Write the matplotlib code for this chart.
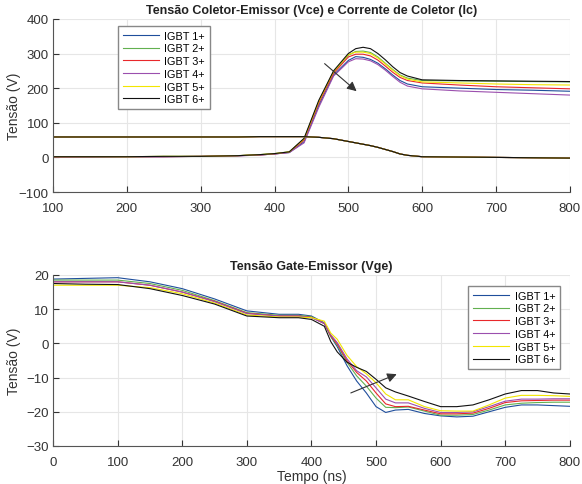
import matplotlib.pyplot as plt

plt.rcParams['font.family'] = ['Liberation Sans', 'DejaVu Sans']

labels = ['IGBT 1+', 'IGBT 2+', 'IGBT 3+', 'IGBT 4+', 'IGBT 5+', 'IGBT 6+']
colors = ['#1f4e9c', '#62b04f', '#e8282b', '#9b4fae', '#f2e600', '#111111']

# Vce / Ic (top)
t_top = [100, 150, 200, 250, 300, 350, 380, 400, 420, 440, 460, 480, 500, 510,
         520, 530, 540, 550, 560, 570, 580, 600, 650, 700, 750, 800]
vce1 = [1, 1, 2, 2, 3, 5, 7, 10, 14, 45, 150, 238, 280, 291, 289, 283, 272, 256,
        238, 222, 212, 204, 200, 196, 194, 191]
vce2 = [2, 2, 2, 3, 3, 5, 8, 11, 16, 52, 160, 246, 295, 306, 307, 303, 290, 272,
        254, 238, 229, 222, 221, 220, 219, 218]
vce3 = [1, 2, 2, 2, 3, 5, 7, 10, 15, 50, 157, 243, 290, 298, 298, 293, 281, 264,
        246, 231, 222, 215, 209, 204, 201, 198]
vce4 = [1, 1, 2, 2, 3, 4, 7, 10, 14, 42, 145, 235, 276, 285, 284, 279, 268, 252,
        234, 217, 206, 198, 192, 188, 184, 180]
vce5 = [2, 2, 2, 3, 3, 5, 8, 11, 16, 53, 162, 248, 297, 304, 304, 300, 287, 270,
        252, 236, 226, 218, 215, 212, 210, 209]
vce6 = [2, 2, 2, 3, 3, 5, 8, 11, 16, 55, 165, 250, 300, 314, 318, 314, 300, 282,
        262, 245, 235, 224, 222, 221, 220, 219]
ic = [59, 59, 59, 59, 59, 59, 60, 60, 60, 60, 58, 54, 46, 42, 38, 34, 29, 23,
      17, 10, 6, 2, 1, 0, -1, -2]

# Vge (bottom)
t_bot = [0, 50, 100, 150, 200, 250, 300, 350, 380, 400, 420, 430, 440, 455, 470,
         485, 500, 515, 530, 550, 575, 600, 625, 650, 675, 700, 725, 750, 775, 800]
vge1 = [18.8, 19, 19.2, 18, 16, 13, 9.5, 8.5, 8.5, 8, 6, 2, -1, -6.5, -11, -14.5,
        -18.5, -20.2, -19.5, -19.3, -20.5, -21.2, -21.5, -21.3, -20, -18.7, -18,
        -18, -18.2, -18.4]
vge2 = [18.5, 18.5, 18.5, 17.5, 15.5, 12.5, 9, 8.2, 8.2, 7.8, 5.8, 2, -0.5, -5.5,
        -9.5, -12.5, -16, -18.7, -18.8, -18.6, -19.8, -21, -21, -20.8, -19.5, -18,
        -17.5, -17.3, -17.2, -17.2]
vge3 = [18, 18, 18, 17, 15, 12.3, 8.8, 8, 8, 7.6, 5.8, 2.2, -0.2, -5, -8.5, -11,
        -14.5, -17.7, -18.5, -18.4, -19.5, -20.6, -20.6, -20.4, -19, -17.3, -16.8,
        -16.7, -16.6, -16.6]
vge4 = [18, 18, 18, 17, 15, 12.2, 8.7, 8, 8, 7.5, 5.8, 2.5, 0.2, -4.5, -8, -9.8,
        -13, -16.3, -17.4, -17.4, -19, -20.2, -20.2, -20, -18.5, -16.9, -16.3,
        -16.3, -16.2, -16.2]
vge5 = [17, 17, 17, 16.3, 14.5, 11.8, 8.3, 7.7, 7.7, 7.5, 6.5, 3, 1.2, -3.5, -6.8,
        -8.9, -11.5, -14.8, -16.5, -16.5, -18.5, -19.7, -19.8, -19.8, -18, -16,
        -15.2, -15.2, -15.3, -15.5]
vge6 = [17.5, 17.3, 17.2, 16, 14, 11.5, 8, 7.5, 7.5, 7, 5, 0.5, -2.5, -5.5, -7,
        -8.2, -10.5, -13, -14.2, -15.4, -17, -18.5, -18.5, -18, -16.5, -14.8,
        -13.8, -13.8, -14.5, -14.8]

vce_all = [vce1, vce2, vce3, vce4, vce5, vce6]
vge_all = [vge1, vge2, vge3, vge4, vge5, vge6]


def style(ax):
    for s in ['top', 'right']:
        ax.spines[s].set_visible(False)
    for s in ['left', 'bottom']:
        ax.spines[s].set_color('#555555')
        ax.spines[s].set_linewidth(0.8)
    ax.tick_params(direction='in', length=4, width=0.8, colors='#333333',
                   labelsize=9.5)
    ax.tick_params(axis='x', pad=7)
    ax.tick_params(axis='y', pad=3)
    ax.grid(True, color='#e6e6e6', linewidth=0.8)
    ax.set_axisbelow(True)
    ax.yaxis.set_label_coords(-0.062, 0.5)


def add_legend(ax, loc, anchor):
    ax.legend(loc=loc, bbox_to_anchor=anchor, fontsize=7.8, fancybox=False,
              edgecolor='#888888', framealpha=1, handlelength=3.3,
              labelspacing=0.25, borderpad=0.45, handletextpad=0.5,
              borderaxespad=0)


fig = plt.figure(figsize=(5.82, 4.85), dpi=100)

ax1 = fig.add_axes([0.0911, 0.602, 0.888, 0.357])
for v, c, lab in zip(vce_all, colors, labels):
    ax1.plot(t_top, v, color=c, lw=0.8, label=lab)
for c in colors:
    ax1.plot(t_top, ic, color=c, lw=0.8)
ax1.annotate('', xy=(514, 186), xytext=(465, 276),
             arrowprops=dict(arrowstyle='-|>', color='#333333', lw=0.8,
                             mutation_scale=14))
ax1.set_xlim(100, 800)
ax1.set_ylim(-100, 400)
ax1.set_xticks(range(100, 801, 100))
ax1.set_yticks(range(-100, 401, 100))
ax1.set_ylabel('Tensão (V)', fontsize=10, color='#333333')
ax1.set_title('Tensão Coletor-Emissor (Vce) e Corrente de Coletor (Ic)',
              fontsize=9, fontweight='bold', color='#222222', pad=4)
style(ax1)
add_legend(ax1, 'upper left', (0.126, 0.96))

ax2 = fig.add_axes([0.0911, 0.0784, 0.888, 0.3526])
for v, c, lab in zip(vge_all, colors, labels):
    ax2.plot(t_bot, v, color=c, lw=0.8, label=lab)
ax2.annotate('', xy=(536, -8.7), xytext=(457, -14.8),
             arrowprops=dict(arrowstyle='-|>', color='#333333', lw=0.8,
                             mutation_scale=14))
ax2.set_xlim(0, 800)
ax2.set_ylim(-30, 20)
ax2.set_xticks(range(0, 801, 100))
ax2.set_yticks(range(-30, 21, 10))
ax2.set_ylabel('Tensão (V)', fontsize=10, color='#333333')
ax2.set_xlabel('Tempo (ns)', fontsize=10, color='#333333', labelpad=1)
ax2.set_title('Tensão Gate-Emissor (Vge)', fontsize=9, fontweight='bold',
              color='#222222', pad=4)
style(ax2)
add_legend(ax2, 'upper right', (0.981, 0.936))

fig.savefig('out.png', dpi=100)
